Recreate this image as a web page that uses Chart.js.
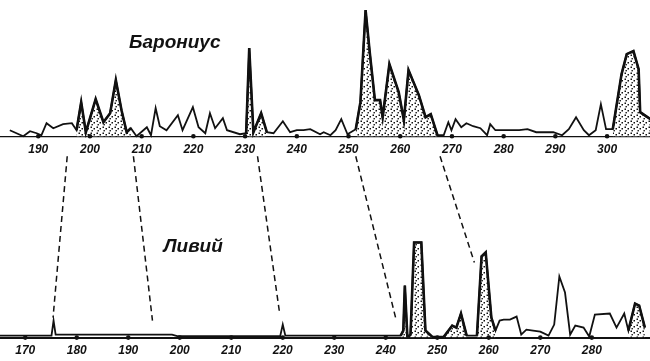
<!DOCTYPE html>
<html>
<head>
<meta charset="utf-8">
<script src="https://cdn.jsdelivr.net/npm/chart.js@4.4.1/dist/chart.umd.min.js"></script>
<style>
  html, body { margin: 0; background: #fff; overflow: hidden; }
  #wrap { width: 650px; height: 366px; position: relative; }
</style>
</head>
<body>
<div id="wrap"><canvas id="chart"></canvas></div>
<script>
// Барониус (upper curve)
var baroniusYears = [184.5, 187.1, 188.4, 189.7, 190.6, 191.6, 192.9, 194.8, 196.5, 197.4, 198.3, 199.2, 201.1, 202.6, 203.9, 205.0, 206.1, 207.1, 207.9, 209.0,
  211.0, 211.8, 212.7, 213.5, 214.8, 217.0, 217.9, 219.9, 221.0, 222.3, 223.2, 224.2, 225.7, 226.5, 229.0, 230.2, 230.8, 231.6, 233.1, 234.2,
  235.5, 237.3, 238.7, 240.0, 241.3, 242.6, 244.5, 245.2, 246.5, 247.5, 248.6, 249.8, 251.4, 252.3, 253.3, 254.1, 255.1, 256.1, 256.6, 257.9,
  259.7, 260.7, 261.6, 263.6, 264.9, 265.9, 267.2, 268.4, 269.3, 269.9, 270.7, 271.8, 272.8, 274.1, 275.5, 276.8, 277.4, 278.4, 279.7, 281.4,
  283.0, 284.6, 286.3, 288.0, 289.6, 291.3, 292.6, 294.0, 295.5, 296.5, 297.8, 298.8, 299.8, 301.1, 302.8, 303.8, 305.1, 306.1, 306.4, 308.4];
var baroniusValues = [6, 0, 5, 3, 1, 13, 8, 12, 13, 6, 34, 4, 37, 14, 23, 56, 26, 4, 8, 0,
  9, 1, 28, 10, 6, 21, 6, 29, 9, 3, 23, 8, 18, 6, 2, 3, 88, 4, 23, 4,
  3, 15, 4, 6, 6, 7, 2, 4, 1, 6, 17, 2, 7, 34, 126, 84, 36, 36, 19, 72,
  44, 16, 66, 41, 19, 22, 1, 1, 14, 6, 17, 9, 13, 10, 8, 1, 12, 6, 6, 6,
  6, 7, 4, 4, 4, 1, 7, 19, 6, 1, 6, 32, 7, 7, 62, 82, 85, 67, 24, 17];
var baroniusShaded = [[197.4, 207.9], [230.2, 234.2], [251.4, 267.2], [301.1, 308.4]];
var baroniusTicks = [190, 200, 210, 220, 230, 240, 250, 260, 270, 280, 290, 300];

// Ливий (lower curve)
var liviusYears = [165.0, 175.1, 175.5, 175.9, 198.5, 199.5, 219.5, 220.0, 220.5, 242.9, 243.4, 243.7, 244.2, 244.8, 245.5, 246.9, 247.7, 249.0, 251.3, 252.9,
  253.7, 254.6, 255.7, 257.7, 258.6, 259.4, 260.5, 261.3, 262.1, 262.9, 264.1, 265.4, 266.3, 267.3, 268.6, 270.0, 271.6, 272.7, 273.7, 274.8,
  275.8, 276.8, 278.4, 279.5, 280.6, 283.5, 284.8, 286.3, 287.1, 288.4, 289.2, 290.3];
var liviusValues = [2, 2, 17, 3, 3, 1.5, 1.5, 13, 2, 2, 7, 52, 0, 3, 95, 95, 7, 1, 1, 12,
  10, 24, 2, 2, 81, 85, 20, 7, 17, 18, 18, 21, 3, 8, 7, 6, 2, 13, 61, 45,
  3, 12, 10, 1, 23, 24, 10, 24, 7, 34, 32, 10];
var liviusShaded = [[242.9, 249.0], [251.3, 255.7], [257.7, 261.3], [287.1, 290.3]];
var liviusTicks = [170, 180, 190, 200, 210, 220, 230, 240, 250, 260, 270, 280];

// dashed correspondences: [year on Барониус, year on Ливий, height of the lower end]
var linkTop = [195.6, 208.4, 232.4, 251.4, 267.7];
var linkBottom = [175.4, 194.7, 219.4, 241.9, 257.2];
var linkLevel = [20, 17, 24, 20, 75];

function points(xs, ys, range) {
  var out = [];
  for (var i = 0; i < xs.length; i++) {
    if (!range || (xs[i] >= range[0] && xs[i] <= range[1])) out.push({x: xs[i], y: ys[i]});
  }
  return out;
}

function stipple() {
  var c = document.createElement('canvas');
  c.width = 6; c.height = 6;
  var g = c.getContext('2d');
  g.fillStyle = '#fff';
  g.fillRect(0, 0, 6, 6);
  g.fillStyle = '#111';
  g.fillRect(0.5, 0.5, 1.5, 1.5);
  g.fillRect(3.5, 2, 1.5, 1.5);
  g.fillRect(1.5, 4, 1.4, 1.4);
  return g.createPattern(c, 'repeat');
}
var dots = stipple();

var datasets = [];
baroniusShaded.forEach(function(r) {
  datasets.push({data: points(baroniusYears, baroniusValues, r), xAxisID: 'xb', yAxisID: 'yb',
    borderColor: '#111', borderWidth: 2.6, backgroundColor: dots, fill: 'origin', order: 2});
});
liviusShaded.forEach(function(r) {
  datasets.push({data: points(liviusYears, liviusValues, r), xAxisID: 'xl', yAxisID: 'yl',
    borderColor: '#111', borderWidth: 2.6, backgroundColor: dots, fill: 'origin', order: 2});
});
datasets.push({data: points(baroniusYears, baroniusValues), xAxisID: 'xb', yAxisID: 'yb',
  borderColor: '#111', borderWidth: 1.8, fill: false, order: 1});
datasets.push({data: points(liviusYears, liviusValues), xAxisID: 'xl', yAxisID: 'yl',
  borderColor: '#111', borderWidth: 1.8, fill: false, order: 1});

var tickFont = {family: 'Liberation Sans', size: 12, style: 'italic', weight: 'bold'};

function keepTicks(list) {
  return function(scale) {
    scale.ticks = list.map(function(v) { return {value: v}; });
  };
}

var extras = {
  id: 'extras',
  afterDraw: function(chart) {
    var ctx = chart.ctx, s = chart.scales;
    ctx.save();
    // tick dots on both axes
    ctx.fillStyle = '#111';
    baroniusTicks.forEach(function(v) {
      ctx.beginPath(); ctx.arc(s.xb.getPixelForValue(v), s.yb.getPixelForValue(0), 2.3, 0, Math.PI * 2); ctx.fill();
    });
    liviusTicks.forEach(function(v) {
      ctx.beginPath(); ctx.arc(s.xl.getPixelForValue(v), s.yl.getPixelForValue(0), 2.3, 0, Math.PI * 2); ctx.fill();
    });
    // dashed links
    ctx.strokeStyle = '#111';
    ctx.lineWidth = 1.5;
    ctx.setLineDash([6, 4]);
    for (var i = 0; i < linkTop.length; i++) {
      ctx.beginPath();
      ctx.moveTo(s.xb.getPixelForValue(linkTop[i]), s.yb.getPixelForValue(-20));
      ctx.lineTo(s.xl.getPixelForValue(linkBottom[i]), s.yl.getPixelForValue(linkLevel[i]));
      ctx.stroke();
    }
    ctx.setLineDash([]);
    // titles
    ctx.font = 'italic bold 19px "Liberation Sans"';
    ctx.textAlign = 'center';
    ctx.textBaseline = 'middle';
    ctx.fillText('Барониус', s.xb.getPixelForValue(216.4), s.yb.getPixelForValue(93));
    ctx.fillText('Ливий', s.xl.getPixelForValue(202.6), s.yl.getPixelForValue(91));
    ctx.restore();
  }
};

new Chart(document.getElementById('chart'), {
  type: 'line',
  data: {datasets: datasets},
  options: {
    responsive: true,
    maintainAspectRatio: false,
    animation: false,
    layout: {padding: {top: 8, bottom: 2, left: 0, right: 0}},
    elements: {point: {radius: 0}, line: {tension: 0}},
    plugins: {legend: {display: false}, tooltip: {enabled: false}},
    scales: {
      xb: {
        type: 'linear', axis: 'x', position: {yb: 0},
        min: 182.6, max: 308.3,
        afterBuildTicks: keepTicks(baroniusTicks),
        grid: {display: true, drawOnChartArea: false, drawTicks: false},
        border: {display: true, color: '#111', width: 1.2},
        ticks: {color: '#111', font: tickFont, padding: 6, autoSkip: false, maxRotation: 0}
      },
      xl: {
        type: 'linear', axis: 'x', position: 'bottom',
        min: 165.1, max: 291.3,
        afterBuildTicks: keepTicks(liviusTicks),
        grid: {display: true, drawOnChartArea: false, drawTicks: false},
        border: {display: true, color: '#111', width: 2},
        ticks: {color: '#111', font: tickFont, padding: 6, autoSkip: false, maxRotation: 0}
      },
      yb: {type: 'linear', display: false, min: -201, max: 128},
      yl: {type: 'linear', display: false, min: 0, max: 329}
    }
  },
  plugins: [extras]
});
</script>
</body>
</html>
